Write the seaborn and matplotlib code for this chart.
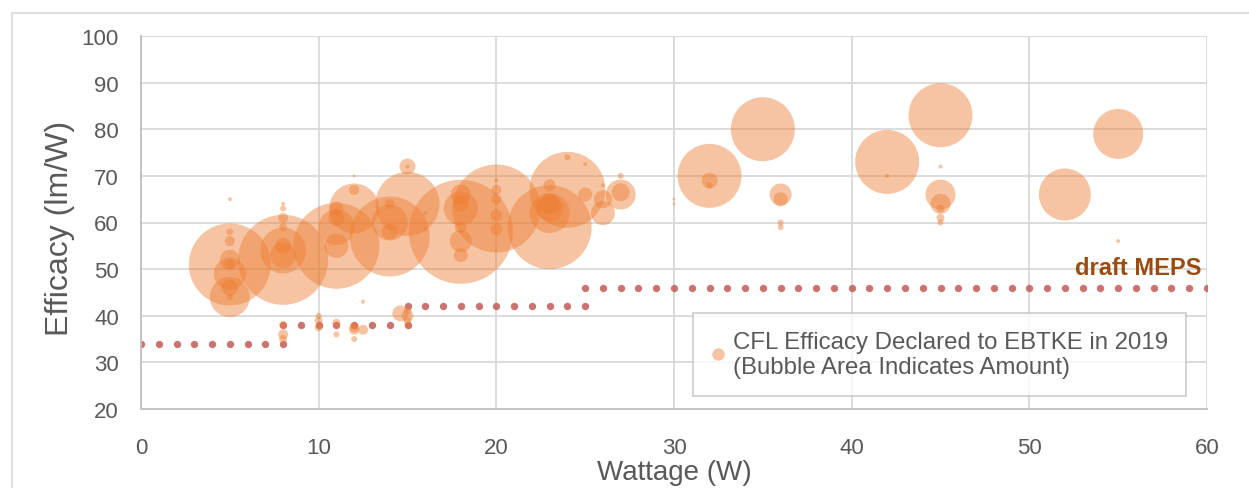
import matplotlib
matplotlib.use("Agg")
import matplotlib.pyplot as plt
import seaborn as sns
import pandas as pd
from matplotlib.lines import Line2D
from matplotlib.patches import Rectangle

# ---------------- data ----------------
wattage = [5, 5, 5, 5, 5, 5, 5, 5, 5, 5,
           8, 8, 8, 8, 8, 8, 8, 8, 8, 8, 8,
           10, 10, 10,
           11, 11, 11, 11, 11, 11, 11,
           12, 12, 12, 12, 12, 12, 12.5, 12.5,
           14, 14, 14, 14,
           15, 15, 15, 14.6, 15, 15, 15, 15,
           16, 16,
           18, 18, 18, 18, 18, 18, 18,
           20, 20, 20, 20, 20, 20,
           23, 23, 23, 23, 23,
           24, 24,
           25, 25, 26, 26, 26, 27, 27, 27,
           30, 30,
           32, 32, 32,
           35,
           36, 36, 36, 36,
           42, 42,
           45, 45, 45, 45, 45, 45, 45,
           52,
           55, 55]
efficacy = [51, 44, 49, 51, 46, 44, 56, 58, 65, 52,
            52, 54, 53, 55, 59, 61, 63, 64, 38, 36, 35,
            40, 39, 37.5,
            55, 59, 55, 63, 61, 38.5, 36,
            63, 67, 70, 37.5, 37, 35, 37, 43,
            57, 60, 64, 58,
            64, 72, 72, 40.5, 40, 38, 41, 39,
            62, 58.6,
            58, 63, 66, 56, 53, 59, 64,
            63, 69, 67, 65, 61.5, 58.6,
            59, 62, 63, 68, 64,
            67, 74,
            66, 72.5, 65, 62, 68, 66, 66.5, 70,
            65, 64,
            70, 69, 68,
            80,
            66, 65, 60, 59,
            73, 70,
            83, 72, 66, 64, 63, 61, 60,
            66,
            79, 56]
amount = [1681, 400, 256, 25, 64, 9, 25, 12, 4, 100,
          2025, 529, 169, 64, 16, 25, 9, 4, 16, 25, 16,
          9, 16, 16,
          1849, 324, 144, 49, 64, 16, 9,
          625, 25, 2, 25, 25, 9, 25, 4,
          1600, 324, 25, 64,
          1024, 64, 4, 64, 36, 9, 16, 16,
          4, 4,
          2704, 289, 100, 121, 49, 36, 64,
          1936, 4, 25, 25, 36, 36,
          1764, 400, 169, 36, 100,
          1444, 9,
          49, 4, 81, 144, 4, 225, 81, 9,
          2, 2,
          1024, 64, 9,
          1024,
          121, 49, 9, 9,
          1024, 4,
          1024, 4, 225, 100, 16, 16, 9,
          676,
          625, 4]

meps_wattage = [0, 1, 2, 3, 4, 5, 6, 7, 8,
                8, 9, 10, 11, 12, 13, 14, 15,
                15, 16, 17, 18, 19, 20, 21, 22, 23, 24, 25,
                25, 26, 27, 28, 29, 30, 31, 32, 33, 34, 35, 36, 37, 38, 39, 40,
                41, 42, 43, 44, 45, 46, 47, 48, 49, 50, 51, 52, 53, 54, 55, 56,
                57, 58, 59, 60]
meps_efficacy = [34, 34, 34, 34, 34, 34, 34, 34, 34,
                 38, 38, 38, 38, 38, 38, 38, 38,
                 42, 42, 42, 42, 42, 42, 42, 42, 42, 42, 42,
                 46, 46, 46, 46, 46, 46, 46, 46, 46, 46, 46, 46, 46, 46, 46, 46,
                 46, 46, 46, 46, 46, 46, 46, 46, 46, 46, 46, 46, 46, 46, 46, 46,
                 46, 46, 46, 46]

x_ticks = [0, 10, 20, 30, 40, 50, 60]
y_ticks = [20, 30, 40, 50, 60, 70, 80, 90, 100]
legend_label = "CFL Efficacy Declared to EBTKE in 2019\n(Bubble Area Indicates Amount)"
meps_label = "draft MEPS"

# ---------------- styling ----------------
sns.set_style("white")
plt.rcParams["font.family"] = ["Liberation Sans", "DejaVu Sans"]

TEXT = "#595959"
GRID = "#D9D9D9"
BUBBLE = "#ED7D31"
MEPS = "#C0504D"
W_PX, H_PX, DPI = 1249, 489, 100

fig = plt.figure(figsize=(W_PX / DPI, H_PX / DPI), dpi=DPI)
ax = fig.add_axes([141 / W_PX, 1 - 410 / H_PX, (1207 - 141) / W_PX, (410 - 37) / H_PX])

# outer chart border
fig.patches.append(Rectangle((12 / W_PX, -0.2), 1.2, 1.2 - 14 / H_PX,
                             transform=fig.transFigure, fill=False,
                             edgecolor=GRID, linewidth=1.2, zorder=0))

df = pd.DataFrame({"Wattage": wattage, "Efficacy": efficacy, "Amount": amount})
mdf = pd.DataFrame({"Wattage": meps_wattage, "Efficacy": meps_efficacy})

# MEPS dotted steps
sns.scatterplot(data=mdf, x="Wattage", y="Efficacy", ax=ax, color=MEPS,
                s=28, linewidth=0, alpha=0.8, zorder=2, legend=False)

# bubbles: marker area proportional to amount (radius px -> s = 2.074 r^2)
k = (2 * 72 / DPI) ** 2
amin, amax = min(amount), max(amount)
sns.scatterplot(data=df, x="Wattage", y="Efficacy", size="Amount", ax=ax,
                sizes=(k * amin, k * amax), size_norm=(amin, amax),
                color=BUBBLE, alpha=0.45, linewidth=0, zorder=3, legend=False)

ax.set_xlim(0, 60)
ax.set_ylim(20, 100)
ax.set_xticks(x_ticks)
ax.set_yticks(y_ticks)
ax.grid(True, color=GRID, linewidth=1.3, zorder=0)
ax.set_axisbelow(True)
for side in ["top", "right"]:
    ax.spines[side].set_visible(False)
for side in ["left", "bottom"]:
    ax.spines[side].set_color("#BFBFBF")
    ax.spines[side].set_linewidth(1.3)
ax.tick_params(axis="both", length=0, labelsize=16, labelcolor=TEXT)
ax.tick_params(axis="x", pad=20)
ax.tick_params(axis="y", pad=16)

ax.set_xlabel("Wattage (W)", fontsize=20, color=TEXT)
ax.set_ylabel("Efficacy (lm/W)", fontsize=23, color=TEXT)
ax.xaxis.set_label_coords(0.5, -(473 - 410) / 373)
ax.xaxis.label.set_va("center")
ax.yaxis.set_label_coords(-(141 - 60) / 1066, (410 - 228) / 373)
ax.yaxis.label.set_va("center")

ax.text(59.7, 49, meps_label, ha="right", va="baseline", fontsize=17,
        fontweight="bold", color="#9C4A0E", zorder=5)

handle = Line2D([], [], marker="o", linestyle="none", markersize=9,
                markerfacecolor=BUBBLE, markeredgewidth=0, alpha=0.45)
leg = ax.legend([handle], [legend_label], loc="lower right",
                bbox_to_anchor=((1186 - 141) / 1066, (410 - 397) / 373),
                borderaxespad=0, fontsize=17.3, frameon=True, fancybox=False,
                handlelength=0.6, handletextpad=0.3, borderpad=0.75,
                labelcolor=TEXT)
leg.get_frame().set_edgecolor("#BFBFBF")
leg.get_frame().set_linewidth(1.2)
leg.set_zorder(6)

fig.savefig("out.png", dpi=DPI)
